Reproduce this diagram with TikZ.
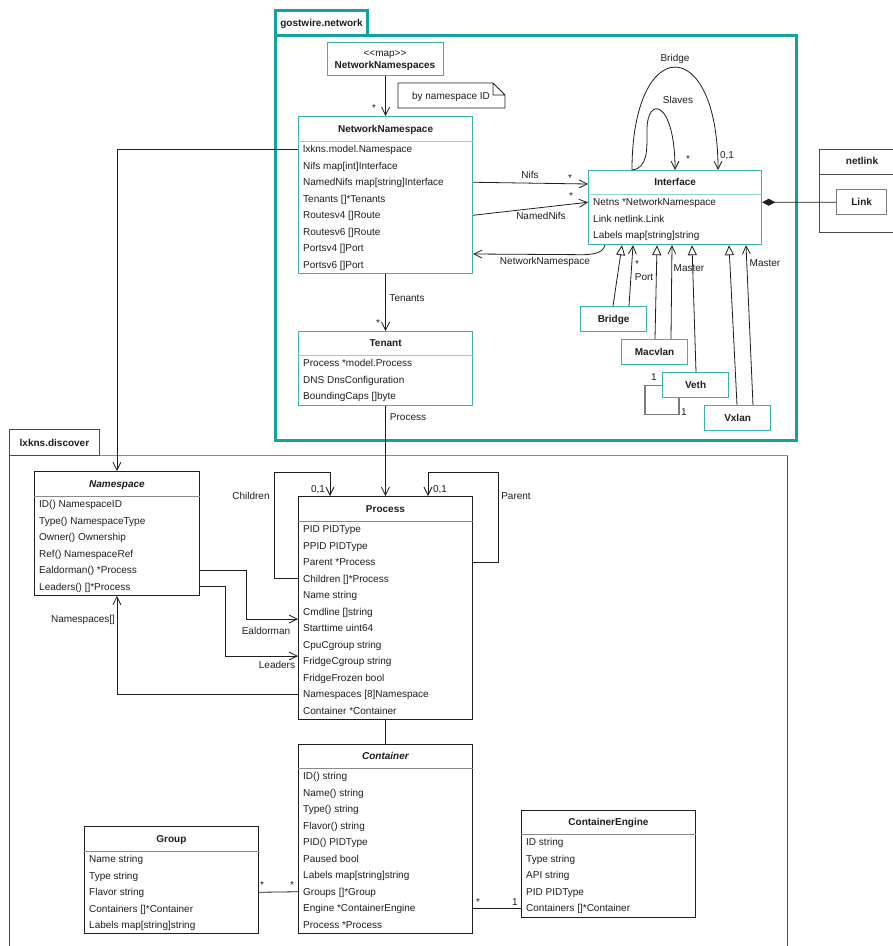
\documentclass[tikz,border=0pt]{standalone}
\usepackage{fontspec}
\setmainfont{Liberation Sans}
\usetikzlibrary{arrows.meta,calc}

\definecolor{pkgteal}{HTML}{16A09B}
\definecolor{clsteal}{HTML}{3AB3AE}
\definecolor{clssep}{HTML}{8FD4D0}
\definecolor{ink}{HTML}{1E1E1E}
\definecolor{plainsep}{HTML}{8A8A8A}
\definecolor{linkgray}{HTML}{7A7A7A}

\tikzset{
  every node/.style={font=\fontsize{10}{12}\selectfont, inner sep=0pt, text=ink,
    text height=7.2pt, text depth=0pt},
  tealbox/.style={draw=clsteal, line width=1.2pt, fill=white},
  plainbox/.style={draw=ink, line width=0.9pt, fill=white},
  titletext/.style={font=\fontsize{10}{12}\selectfont\bfseries},
  rowtext/.style={anchor=west},
  lbl/.style={},
  conn/.style={draw=ink, line width=0.8pt},
  assoc/.style={-{Straight Barb[length=8pt,width=8pt,line width=0.8pt]}},
  gen/.style={-{Triangle[open,length=10pt,width=9pt,fill=white,line width=0.8pt]}},
  comp/.style={{Diamond[length=13pt,width=7pt]}-},
  selfloop/.style={draw=linkgray, line width=1.1pt},
}

% class box: name, box style, separator colour, x, y, width, height, header height, title
\newcommand\umlclass[9]{%
  \node[#2, anchor=north west, minimum width=#6pt, minimum height=#7pt] (#1) at (#4,#5) {};
  \node[titletext] (#1-title) at ($(#1.north)+(0,#8/2)$) {#9};
  \draw[draw=#3, line width=1pt] ($(#1.north west)+(0,#8)$) -- ($(#1.north east)+(0,#8)$);
}
% attribute rows: name, header height, list of rows
\newcommand\umlrows[3]{%
  \foreach \r [count=\i] in {#3}
    \node[rowtext] (#1-\i) at ($(#1.north west)+(5,#2+16.5*\i-8.25)$) {\r};
}

\begin{document}
\begin{tikzpicture}[x=1pt,y=-1pt]
\useasboundingbox (0,0) rectangle (893,946);
\clip (0,0) rectangle (893,946);
\fill[white] (0,0) rectangle (893,946);

% ---------- packages ----------
\node[draw=pkgteal, line width=3pt, anchor=north west, minimum width=521pt, minimum height=405pt] (pkgnet) at (274,34) {};
\node[draw=pkgteal, line width=3pt, anchor=north west, minimum width=92pt, minimum height=25pt] (pkgnettab) at (274,9) {};
\node[titletext] (pkgnetname) at (pkgnettab.center) {gostwire.network};

\node[draw=ink!80, line width=0.9pt, anchor=north west, minimum width=778pt, minimum height=540pt] (pkglx) at (9,455) {};
\draw[plainsep, line width=1pt] (pkglx.north west) -- (pkglx.north east);
\node[draw=ink!80, line width=0.9pt, anchor=north west, minimum width=90pt, minimum height=26pt] (pkglxtab) at (9,429) {};
\node[titletext] (pkglxname) at (pkglxtab.center) {lxkns.discover};

\node[draw=ink!80, line width=0.9pt, anchor=north west, minimum width=100pt, minimum height=83pt] (netlink) at (819,149) {};
\draw[draw=ink!80, line width=0.9pt] ($(netlink.north west)+(0,25)$) -- ($(netlink.north east)+(0,25)$);
\node[titletext] (netlinkname) at (862,161) {netlink};
\node[draw=linkgray, line width=1.3pt, fill=white, anchor=north west, minimum width=50pt, minimum height=25pt] (link) at (836,189) {};
\node[titletext] (linkname) at (link.center) {Link};

% ---------- gostwire.network classes ----------
\node[tealbox, anchor=north west, minimum width=116pt, minimum height=33pt] (nsmap) at (327,42) {};
\node (nsmapst) at (385,53) {{<}{<}map{>}{>}};
\node[titletext] (nsmapname) at (385,65) {NetworkNamespaces};

\draw[ink, line width=0.8pt] (398,83) -- (493,83) -- (505,95) -- (505,108) -- (398,108) -- cycle
  (493,83) -- (493,95) -- (505,95);
\node (note) at (451,96) {by namespace ID};

\umlclass{nns}{tealbox}{clssep}{298}{116}{174}{157}{25}{NetworkNamespace}
\umlrows{nns}{25}{{lxkns.model.Namespace},{Nifs map[int]Interface},{NamedNifs map[string]Interface},{Tenants []*Tenants},{Routesv4 []Route},{Routesv6 []Route},{Portsv4 []Port},{Portsv6 []Port}}

\umlclass{tenant}{tealbox}{clssep}{298}{331}{174}{74}{24}{Tenant}
\umlrows{tenant}{24}{{Process *model.Process},{DNS DnsConfiguration},{BoundingCaps []byte}}

\umlclass{iface}{tealbox}{clssep}{588}{170}{173}{74}{24}{Interface}
\umlrows{iface}{24}{{Netns *NetworkNamespace},{Link netlink.Link},{Labels map[string]string}}

\node[tealbox, anchor=north west, minimum width=66pt, minimum height=25pt] (bridge) at (580,306) {};
\node[titletext] (bridgename) at (bridge.center) {Bridge};
\node[tealbox, anchor=north west, minimum width=66pt, minimum height=25pt] (macvlan) at (621,339) {};
\node[titletext] (macvlanname) at (macvlan.center) {Macvlan};
\node[tealbox, anchor=north west, minimum width=66pt, minimum height=25pt] (veth) at (662,372) {};
\node[titletext] (vethname) at (veth.center) {Veth};
\node[tealbox, anchor=north west, minimum width=66pt, minimum height=25pt] (vxlan) at (704,405) {};
\node[titletext] (vxlanname) at (vxlan.center) {Vxlan};

% ---------- lxkns.discover classes ----------
\umlclass{nsp}{plainbox}{plainsep}{34}{471}{165}{124}{25}{\itshape Namespace}
\umlrows{nsp}{25}{{ID() NamespaceID},{Type() NamespaceType},{Owner() Ownership},{Ref() NamespaceRef},{Ealdorman() *Process},{Leaders() []*Process}}

\umlclass{proc}{plainbox}{plainsep}{298}{496}{174}{223}{25}{Process}
\umlrows{proc}{25}{{PID PIDType},{PPID PIDType},{Parent *Process},{Children []*Process},{Name string},{Cmdline []string},{Starttime uint64},{CpuCgroup string},{FridgeCgroup string},{FridgeFrozen bool},{Namespaces [8]Namespace},{Container *Container}}

\umlclass{cont}{plainbox}{plainsep}{298}{744}{174}{189}{24}{\itshape Container}
\umlrows{cont}{24}{{ID() string},{Name() string},{Type() string},{Flavor() string},{PID() PIDType},{Paused bool},{Labels map[string]string},{Groups []*Group},{Engine *ContainerEngine},{Process *Process}}

\umlclass{group}{plainbox}{plainsep}{84}{826}{174}{107}{25}{Group}
\umlrows{group}{25}{{Name string},{Type string},{Flavor string},{Containers []*Container},{Labels map[string]string}}

\umlclass{engine}{plainbox}{plainsep}{521}{810}{174}{107}{24}{ContainerEngine}
\umlrows{engine}{24}{{ID string},{Type string},{API string},{PID PIDType},{Containers []*Container}}

% ---------- connectors: gostwire.network ----------
\draw[conn,assoc] (nsmap.south) -- (nns.north);
\node[lbl] (m-nsmap) at (374,108) {*};

\draw[conn,assoc] (nns-3 -| nns.east) -- ($(iface.north west)+(0,14)$);
\node[lbl] (l-nifs) at (530,175) {Nifs};
\node[lbl] (m-nifs) at (570,178) {*};

\draw[conn,assoc] (nns-5 -| nns.east) -- (iface-1 -| iface.west);
\node[lbl] (l-named) at (541,216) {NamedNifs};
\node[lbl] (m-named) at (571,196) {*};

\draw[conn,assoc] ($(iface.south west)+(17,0)$) .. controls ($(iface.south west)+(15,7)$) and ($(iface.south west)+(8,9)$) .. ($(iface.south west)+(-4,9.5)$) -- ($(nns.north east)+(0,138)$);
\node[lbl] (l-netns) at (545,261) {NetworkNamespace};

\draw[conn,assoc] (nns.south) -- (tenant.north);
\node[lbl] (l-tenants) at (407,298) {Tenants};
\node[lbl] (m-tenants) at (378,323) {*};

\draw[conn,assoc] (tenant.south) -- (proc.north);
\node[lbl] (l-process) at (408,417) {Process};

\draw[conn,assoc] (nns-1 -| nns.west) -| (nsp.north);

% self associations of Interface
\draw[conn,assoc] ($(iface.north west)+(44,0)$) .. controls ($(iface.north west)+(44,-137)$) and ($(iface.north west)+(130,-137)$) .. ($(iface.north west)+(130,0)$);
\node[lbl] (l-bridge) at (675,58) {Bridge};
\node[lbl] (m-bridge) at (727,155) {0,1};
\draw[conn,assoc] ($(iface.north west)+(44,0)$) .. controls ($(iface.north west)+(60,-2)$) and ($(iface.north west)+(59,-20)$) .. ($(iface.north west)+(59,-40)$) .. controls ($(iface.north west)+(59,-75)$) and ($(iface.north west)+(87,-70)$) .. ($(iface.north west)+(87,0)$);
\node[lbl] (l-slaves) at (678,100) {Slaves};
\node[lbl] (m-slaves) at (688,159) {*};

% composition with netlink.Link
\draw[conn,comp] (iface-1 -| iface.east) -- (link.west);

% specialisations of Interface
\draw[conn,gen] ($(bridge.north west)+(33,0)$) -- ($(iface.south west)+(34,0)$);
\draw[conn,assoc] ($(bridge.north west)+(49,0)$) -- ($(iface.south west)+(45,0)$);
\node[lbl] (m-port) at (637,264) {*};
\node[lbl] (l-port) at (644,277) {Port};

\draw[conn,gen] ($(macvlan.north west)+(34,0)$) -- ($(iface.south west)+(69,0)$);
\draw[conn,assoc] ($(macvlan.north west)+(50,0)$) -- ($(iface.south west)+(84,0)$);
\node[lbl] (l-mmaster) at (689,268) {Master};

\draw[conn,gen] ($(veth.north west)+(34,0)$) -- ($(iface.south west)+(104,0)$);
\draw[selfloop] (veth.west) -- ++(-17,0) |- ($(veth.south west)+(17,16)$) -- ($(veth.south west)+(17,0)$);
\node[lbl] (m-veth1) at (654,377) {1};
\node[lbl] (m-veth2) at (684,412) {1};

\draw[conn,gen] ($(vxlan.north west)+(33,0)$) -- ($(iface.south west)+(141,0)$);
\draw[conn,assoc] ($(vxlan.north west)+(49,0)$) -- ($(iface.south west)+(158,0)$);
\node[lbl] (l-vmaster) at (765,263) {Master};

% ---------- connectors: lxkns.discover ----------
\draw[conn,assoc] (proc-4 -| proc.west) -| ($(proc.north west)+(-24,-24)$) -| ($(proc.north west)+(32,0)$);
\node[lbl] (m-children) at (318,489) {0,1};
\node[lbl] (l-children) at (251,496) {Children};

\draw[conn,assoc] (proc-3 -| proc.east) -| ($(proc.north east)+(25,-24)$) -| ($(proc.north west)+(130,0)$);
\node[lbl] (m-parent) at (440,489) {0,1};
\node[lbl] (l-parent) at (516,496) {Parent};

\draw[conn,assoc] (nsp-5 -| nsp.east) -- ++(46,0) |- ($(proc.north west)+(0,123)$);
\node[lbl] (l-ealdorman) at (266,631) {Ealdorman};

\draw[conn,assoc] (nsp-6 -| nsp.east) -- ++(25,0) |- ($(proc.north west)+(0,160)$);
\node[lbl] (l-leaders) at (277,665) {Leaders};

\draw[conn,assoc] (proc-11 -| proc.west) -| (nsp.south);
\node[lbl] (l-namespaces) at (83,619) {Namespaces[]};

\draw[conn] (proc.south) -- (cont.north);

\draw[conn] (group-3 -| group.east) -- (cont-8 -| cont.west);
\node[lbl] (m-group1) at (262,885) {*};
\node[lbl] (m-group2) at (292,885) {*};

\draw[conn] (cont-9 -| cont.east) -- (engine-5 -| engine.west);
\node[lbl] (m-engine1) at (478,902) {*};
\node[lbl] (m-engine2) at (515,902) {1};
\end{tikzpicture}
\end{document}
